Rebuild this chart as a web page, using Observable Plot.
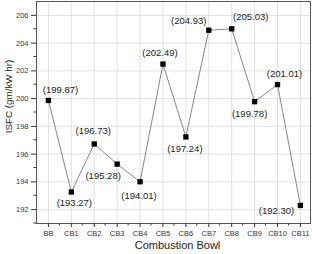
<!DOCTYPE html>
<html>
<head>
<meta charset="utf-8">
<script src="https://cdn.jsdelivr.net/npm/d3@7"></script>
<script src="https://cdn.jsdelivr.net/npm/@observablehq/plot@0.6"></script>
<style>
  html, body { margin: 0; padding: 0; background: #fff; }
  #chart { width: 312px; height: 254px; }
</style>
</head>
<body>
<div id="chart"></div>
<script>
const categories = ["BB", "CB1", "CB2", "CB3", "CB4", "CB5", "CB6", "CB7", "CB8", "CB9", "CB10", "CB11"];
const isfc = [199.87, 193.27, 196.73, 195.28, 194.01, 202.49, 197.24, 204.93, 205.03, 199.78, 201.01, 192.30];
const yTicks = [192, 194, 196, 198, 200, 202, 204, 206];

// label placement offsets (layout only)
const labelOffsets = {
  BB: [12, -10], CB1: [3, 11], CB2: [-1, -13], CB3: [-14, 12], CB4: [-1, 14],
  CB5: [-3, -11], CB6: [-1, 12], CB7: [-20, -9], CB8: [19, -12], CB9: [-5, 12],
  CB10: [7, -11], CB11: [-24, 5]
};

const data = categories.map((c, i) => ({i, c, v: isfc[i]}));
const font = "'Liberation Sans', Arial, sans-serif";
const xMinor = d3.range(0, categories.length - 1).map(i => i + 0.5);
const yMinor = d3.range(191, 207, 1).filter(v => v % 2 === 1);

const labelMarks = data.map(d => Plot.text([d], {
  x: "i", y: "v", text: d => `(${d.v.toFixed(2)})`,
  dx: labelOffsets[d.c][0], dy: labelOffsets[d.c][1],
  fontSize: 9.5, fill: "#222", fontFamily: font
}));

const chart = Plot.plot({
  width: 312, height: 254,
  marginLeft: 36, marginRight: 2, marginTop: 1, marginBottom: 31,
  style: {fontFamily: font, background: "#fff"},
  x: {domain: [-0.52, 11.44], axis: null},
  y: {domain: [191, 207], axis: null},
  marks: [
    Plot.gridX(d3.range(categories.length), {stroke: "#d8d8d8", strokeOpacity: 1, strokeWidth: 0.8}),
    Plot.gridY(yTicks, {stroke: "#d8d8d8", strokeOpacity: 1, strokeWidth: 0.8}),
    Plot.frame({stroke: "#555", strokeWidth: 1}),
    Plot.axisY(yTicks, {anchor: "left", tickSize: 5, tickPadding: 3, fontSize: 7.5, stroke: "#333", fill: "#333", label: null}),
    Plot.axisX(d3.range(categories.length), {anchor: "bottom", tickSize: 4, tickPadding: 3, fontSize: 7.5, stroke: "#333", fill: "#333", tickFormat: i => categories[i], label: null}),
    Plot.text(["ISFC (gm/kW hr)"], {frameAnchor: "left", textAnchor: "middle", dx: -28, dy: -16, rotate: -90, fontSize: 9.8, fill: "#222"}),
    Plot.text(["Combustion Bowl"], {frameAnchor: "bottom", dy: 25, dx: 4, fontSize: 11, fill: "#222"}),
    Plot.line(data, {x: "i", y: "v", stroke: "#777", strokeWidth: 0.9}),
    Plot.dot(data, {x: "i", y: "v", symbol: "square", r: 3, fill: "#000", stroke: "none"}),
    ...labelMarks
  ]
});

// minor ticks positioned through the plot's scales
const svg = d3.select(chart);
const xs = chart.scale("x"), ys = chart.scale("y");
const g = svg.append("g").attr("stroke", "#333").attr("stroke-width", 1);
const yBase = ys.apply(191), xBase = xs.apply(-0.52);
xMinor.forEach(v => g.append("line").attr("x1", xs.apply(v)).attr("x2", xs.apply(v)).attr("y1", yBase).attr("y2", yBase + 2.5));
yMinor.forEach(v => g.append("line").attr("x1", xBase - 2.5).attr("x2", xBase).attr("y1", ys.apply(v)).attr("y2", ys.apply(v)));

document.getElementById("chart").appendChild(chart);
</script>
</body>
</html>
